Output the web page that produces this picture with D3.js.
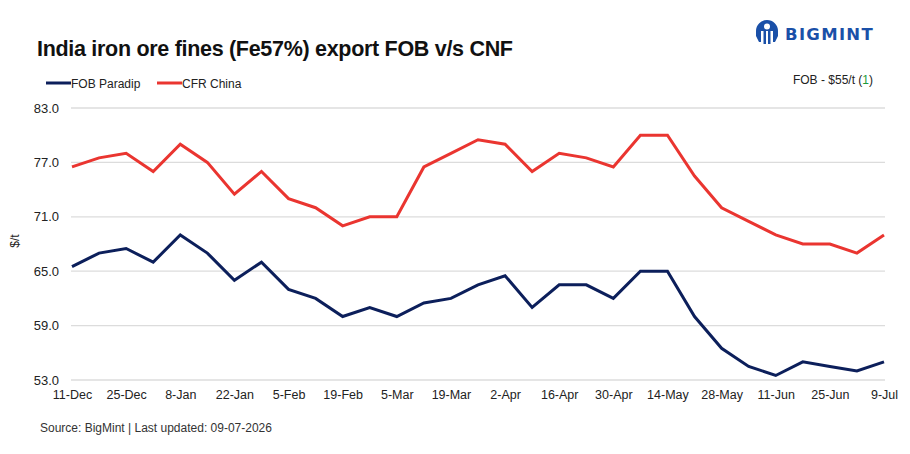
<!DOCTYPE html>
<html><head><meta charset="utf-8">
<script src="https://cdn.jsdelivr.net/npm/d3@7"></script>
<style>
body{margin:0;background:#fff;}
svg{display:block;font-family:"Liberation Sans",Arial,sans-serif;}
</style></head>
<body>
<svg id="c" width="910" height="454"></svg>
<script>
const dates = ["11-Dec","18-Dec","25-Dec","1-Jan","8-Jan","15-Jan","22-Jan","29-Jan","5-Feb","12-Feb","19-Feb","26-Feb","5-Mar","12-Mar","19-Mar","26-Mar","2-Apr","9-Apr","16-Apr","23-Apr","30-Apr","7-May","14-May","21-May","28-May","4-Jun","11-Jun","18-Jun","25-Jun","2-Jul","9-Jul"];
const fobParadip = [65.5,67,67.5,66,69,67,64,66,63,62,60,61,60,61.5,62,63.5,64.5,61,63.5,63.5,62,65,65,60,56.5,54.5,53.5,55,54.5,54,55];
const cfrChina = [76.5,77.5,78,76,79,77,73.5,76,73,72,70,71,71,76.5,78,79.5,79,76,78,77.5,76.5,80,80,75.5,72,70.5,69,68,68,67,69];
const yTicks = [53,59,65,71,77,83];
const xTickLabels = ["11-Dec","25-Dec","8-Jan","22-Jan","5-Feb","19-Feb","5-Mar","19-Mar","2-Apr","16-Apr","30-Apr","14-May","28-May","11-Jun","25-Jun","9-Jul"];
const seriesNames = ["FOB Paradip","CFR China"];
const seriesColors = ["#0c1f5b","#ea3530"];

const svg = d3.select("#c");
const x = d3.scalePoint().domain(dates).range([72,884]);
const y = d3.scaleLinear().domain([53,83]).range([380,108]);

// gridlines
svg.append("g").selectAll("line").data(yTicks).join("line")
  .attr("x1",71).attr("x2",885).attr("y1",d=>y(d)).attr("y2",d=>y(d))
  .attr("stroke","#dcdcdc").attr("stroke-width",1.3);

// y axis
const ya = svg.append("g").attr("transform","translate(62,0)")
  .call(d3.axisLeft(y).tickValues(yTicks).tickFormat(d3.format(".1f")).tickSize(0).tickPadding(3));
ya.select(".domain").remove();
ya.selectAll("text").attr("font-size",13).attr("fill","#222").attr("font-family","Liberation Sans, Arial, sans-serif");

// x axis
const xa = svg.append("g").attr("transform","translate(0,390)")
  .call(d3.axisBottom(x).tickValues(xTickLabels).tickSize(0).tickPadding(0));
xa.select(".domain").remove();
xa.selectAll("text").attr("font-size",12.5).attr("fill","#222").attr("dy","0.71em")
  .attr("font-family","Liberation Sans Narrow, Liberation Sans, Arial, sans-serif");

// lines
const line = d3.line().x((d,i)=>x(dates[i])).y(d=>y(d));
[cfrChina,fobParadip].forEach((s,k)=>{
  const col = k===0 ? seriesColors[1] : seriesColors[0];
  svg.append("path").datum(s).attr("d",line).attr("fill","none")
    .attr("stroke",col).attr("stroke-width",3).attr("stroke-linejoin","miter");
});

// y label
svg.append("text").attr("transform","translate(19,241) rotate(-90)").attr("text-anchor","middle")
  .attr("font-size",12).attr("fill","#222").text("$/t");

// title
svg.append("text").attr("x",37).attr("y",56).attr("font-size",21.5).attr("font-weight","bold")
  .attr("fill","#111").attr("font-family","Liberation Sans, Arial, sans-serif").attr("letter-spacing","-0.3")
  .text("India iron ore fines (Fe57%) export FOB v/s CNF");

// legend
const lg = [{n:seriesNames[0],c:seriesColors[0],x:46},{n:seriesNames[1],c:seriesColors[1],x:157}];
lg.forEach(l=>{
  svg.append("line").attr("x1",l.x).attr("x2",l.x+25).attr("y1",83).attr("y2",83)
    .attr("stroke",l.c).attr("stroke-width",3);
  svg.append("text").attr("x",l.x+25).attr("y",87.5).attr("font-size",12).attr("fill","#222").text(l.n);
});

// annotation
const ann = svg.append("text").attr("x",873).attr("y",84).attr("text-anchor","end").attr("font-size",12).attr("fill","#222");
ann.append("tspan").text("FOB - $55/t (");
ann.append("tspan").attr("fill","#1a9a3a").text("1");
ann.append("tspan").text(")");

// source
svg.append("text").attr("x",40).attr("y",432).attr("font-size",12).attr("fill","#333")
  .attr("font-family","Liberation Sans Narrow, Liberation Sans, Arial, sans-serif")
  .text("Source: BigMint | Last updated: 09-07-2026");

// logo
const logo = svg.append("g").attr("fill","#1a50a8");
logo.append("path").attr("d","M767,20 a11,11 0 0 1 11,11 v5 l-3,6 h-2 v-11 h-2.5 v13 h-2.5 v-13 h-2 v13 h-2.5 v-13 h-2.5 v11 h-2 l-3,-6 v-5 a11,11 0 0 1 11,-11 z");
logo.append("circle").attr("cx",767).attr("cy",26.5).attr("r",3).attr("fill","#fff");
logo.append("text").attr("x",785).attr("y",40).attr("font-size",16.5).attr("font-weight","bold")
  .attr("letter-spacing","1.3").attr("font-family","DejaVu Sans, Liberation Sans, sans-serif").text("BIGMINT");
</script>
</body></html>
